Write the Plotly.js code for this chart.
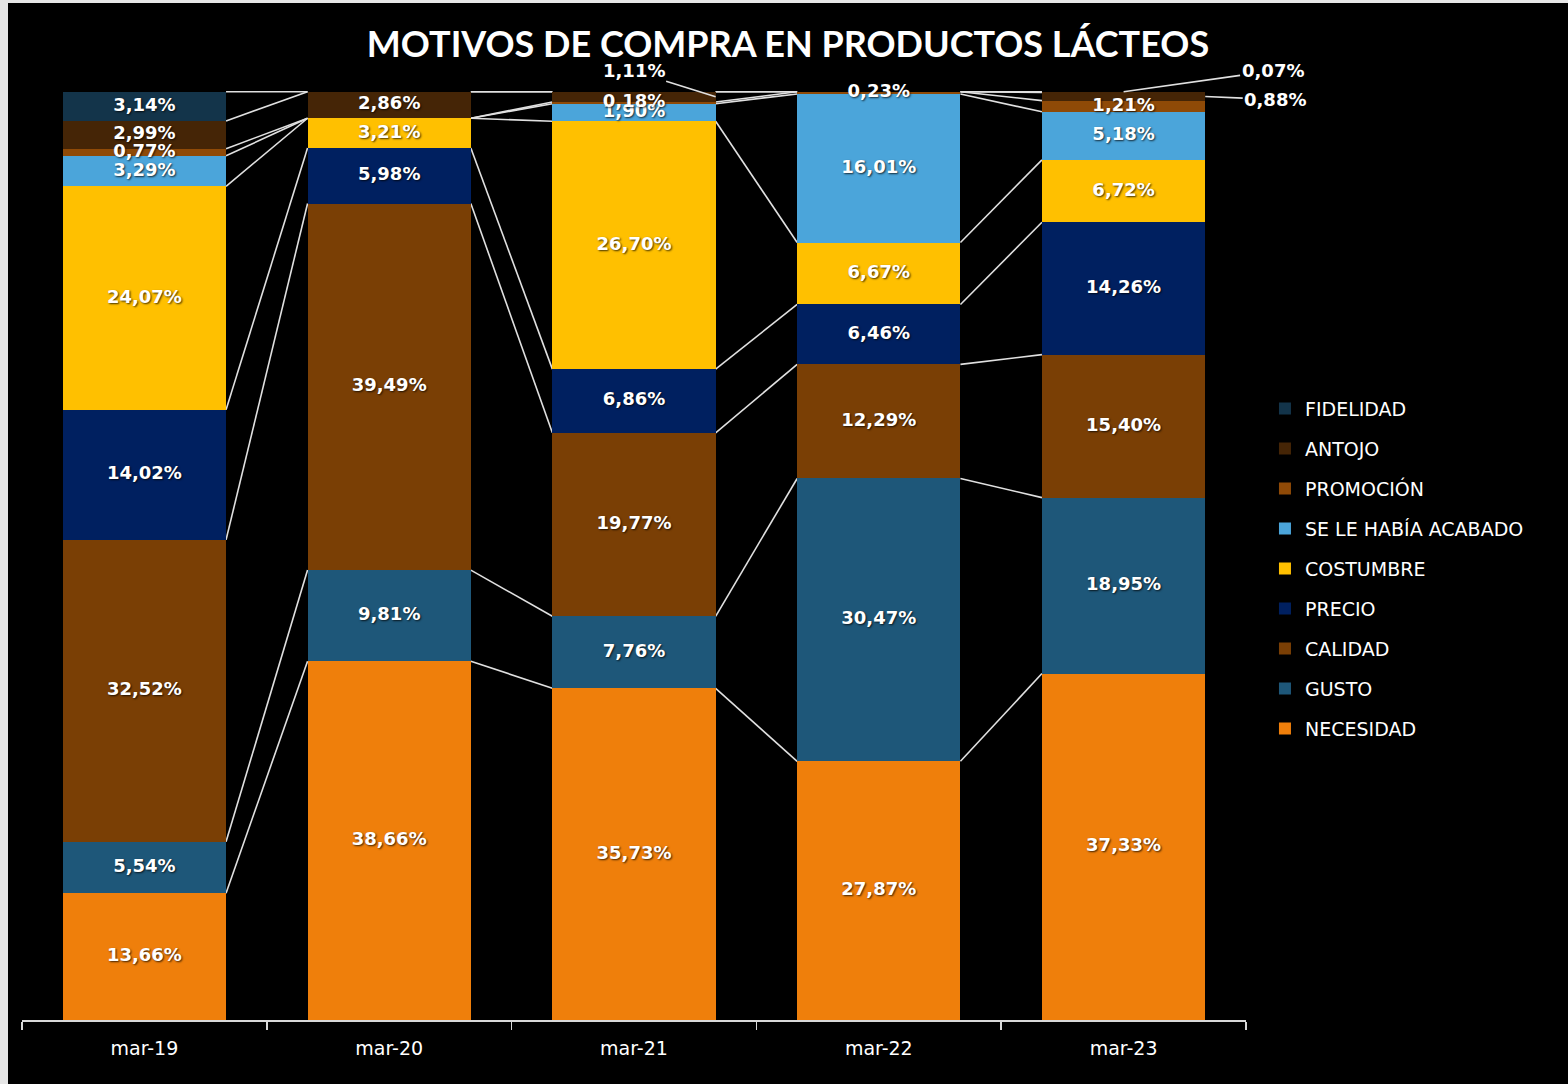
<!DOCTYPE html>
<html>
<head>
<meta charset="utf-8">
<script src="https://cdn.plot.ly/plotly-3.0.1.min.js"></script>
<style>
  html, body { margin: 0; padding: 0; background: #e6e6e6; }
  #chart { position: absolute; left: 8px; top: 3px; width: 1560px; height: 1081px; background: #000; }
</style>
</head>
<body>
<div id="chart"></div>
<script>
const categories = ['mar-19', 'mar-20', 'mar-21', 'mar-22', 'mar-23'];
const seriesNames = ['NECESIDAD', 'GUSTO', 'CALIDAD', 'PRECIO', 'COSTUMBRE', 'SE LE HABÍA ACABADO', 'PROMOCIÓN', 'ANTOJO', 'FIDELIDAD'];
const necesidad = [13.66, 38.66, 35.73, 27.87, 37.33];
const gusto     = [5.54, 9.81, 7.76, 30.47, 18.95];
const calidad   = [32.52, 39.49, 19.77, 12.29, 15.40];
const precio    = [14.02, 5.98, 6.86, 6.46, 14.26];
const costumbre = [24.07, 3.21, 26.70, 6.67, 6.72];
const acabado   = [3.29, 0, 1.90, 16.01, 5.18];
const promocion = [0.77, 0, 0.18, 0.23, 1.21];
const antojo    = [2.99, 2.86, 1.11, 0, 0.88];
const fidelidad = [3.14, 0, 0, 0, 0.07];
const seriesValues = [necesidad, gusto, calidad, precio, costumbre, acabado, promocion, antojo, fidelidad];
const seriesColors = ['#EF7F0B', '#1E5779', '#7A3F05', '#002060', '#FFC000', '#4BA5DA', '#8F4A07', '#452506', '#13344A'];

// labels drawn outside with a leader line: [series index, category index, ax, ay, anchor]
const outsideLabels = [
  [7, 2, -82, -26, 'edge'],
  [8, 4, 149, -21, 'top'],
  [7, 4, 70, 3, 'edge']
];

const fmt = v => v.toFixed(2).replace('.', ',') + '%';
const barWidth = 0.667;
const hw = barWidth / 2;
const labelFont = { family: '"DejaVu Sans", sans-serif', size: 18, color: '#ffffff', weight: 700, shadow: '1px 1px 2px rgba(0,0,0,0.75)' };

// cumulative bottoms/tops
const bottoms = [], tops = [];
seriesValues.forEach((vals, k) => {
  bottoms.push(vals.map((v, i) => k === 0 ? 0 : tops[k - 1][i]));
  tops.push(vals.map((v, i) => bottoms[k][i] + v));
});

const isOutside = (k, i) => outsideLabels.some(o => o[0] === k && o[1] === i);

const barTraces = seriesValues.map((vals, k) => ({
  type: 'bar',
  name: seriesNames[k],
  x: categories,
  y: vals,
  width: barWidth,
  legendgroup: 'g' + k,
  legendrank: 1000 - k * 10,
  marker: { color: seriesColors[k], line: { width: 0 } },
  hoverinfo: 'name+y'
}));

// value labels on top of all bars (centered in each segment)
const textTraces = seriesValues.map((vals, k) => ({
  type: 'scatter',
  mode: 'text',
  x: categories,
  y: vals.map((v, i) => (bottoms[k][i] + tops[k][i]) / 2),
  text: vals.map((v, i) => (v > 0 && !isOutside(k, i)) ? fmt(v) : ''),
  textposition: 'middle center',
  textfont: labelFont,
  cliponaxis: false,
  showlegend: false,
  hoverinfo: 'skip'
}));

// series lines between bars
const shapes = [];
seriesValues.forEach((vals, k) => {
  for (let i = 0; i < categories.length - 1; i++) {
    shapes.push({
      type: 'line', xref: 'x', yref: 'y', layer: 'below',
      x0: i + hw, y0: tops[k][i], x1: i + 1 - hw, y1: tops[k][i + 1],
      line: { color: '#e0e0e0', width: 1.6 }
    });
  }
});

const annotations = outsideLabels.map(o => {
  const [k, i, ax, ay, anchor] = o;
  const yMid = (bottoms[k][i] + tops[k][i]) / 2;
  return {
    xref: 'x', yref: 'y',
    x: anchor === 'edge' ? i + hw : i,
    y: anchor === 'edge' ? yMid : tops[k][i],
    text: fmt(seriesValues[k][i]),
    showarrow: true, arrowhead: 0, arrowwidth: 1.6, arrowcolor: '#e0e0e0',
    ax: ax, ay: ay, standoff: 0,
    font: labelFont
  };
});

const layout = {
  width: 1560, height: 1081,
  paper_bgcolor: '#000000', plot_bgcolor: '#000000',
  margin: { l: 14, r: 322, t: 86, b: 64 },
  barmode: 'stack',
  separators: ',.',
  title: {
    text: '<b>MOTIVOS DE COMPRA EN PRODUCTOS LÁCTEOS</b>',
    font: { family: 'Lato, "Open Sans", sans-serif', size: 36, color: '#ffffff' },
    x: 0.5, xref: 'container', xanchor: 'center',
    y: 0.962, yref: 'container', yanchor: 'middle'
  },
  xaxis: {
    type: 'category',
    range: [-0.5, 4.5],
    showline: true, linecolor: '#d9d9d9', linewidth: 2,
    ticks: 'outside', tickson: 'boundaries', ticklen: 8, tickcolor: '#d9d9d9', tickwidth: 1.5,
    ticklabelstandoff: 10,
    tickfont: { family: '"DejaVu Sans", sans-serif', size: 19, color: '#ffffff' },
    showgrid: false, zeroline: false, fixedrange: true
  },
  yaxis: {
    range: [0, 100.3], visible: false, showgrid: false, zeroline: false, fixedrange: true
  },
  legend: {
    x: 1.0155, xanchor: 'left',
    y: 0.677, yanchor: 'top',
    traceorder: 'grouped',
    tracegroupgap: 12.3,
    font: { family: '"DejaVu Sans", sans-serif', size: 19, color: '#ffffff' },
    bgcolor: 'rgba(0,0,0,0)', itemwidth: 30
  },
  shapes: shapes,
  annotations: annotations,
  showlegend: true
};

Plotly.newPlot('chart', barTraces.concat(textTraces), layout, { displayModeBar: false, staticPlot: true });
</script>
</body>
</html>
